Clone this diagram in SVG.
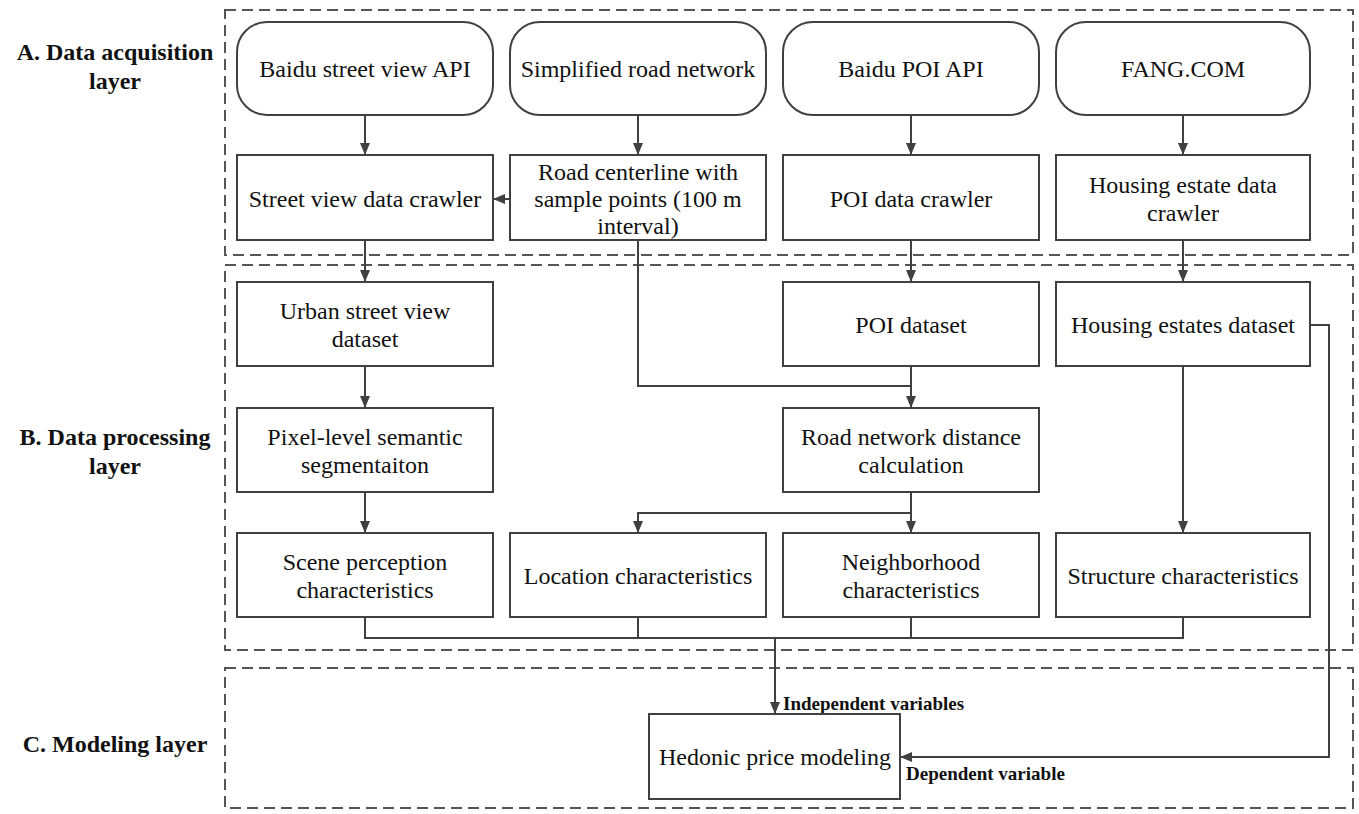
<svg xmlns="http://www.w3.org/2000/svg" width="1359" height="814" viewBox="0 0 1359 814">
<style>
.layer{fill:none;stroke:#555;stroke-width:2;stroke-dasharray:11 6}
.nd{fill:#fff;stroke:#404040;stroke-width:2}
.t{font-family:"Liberation Serif","Times New Roman",serif;font-size:24px;fill:#111;text-anchor:middle}
.lb{font-family:"Liberation Serif","Times New Roman",serif;font-size:24px;font-weight:bold;fill:#111;text-anchor:middle}
.sm{font-family:"Liberation Serif","Times New Roman",serif;font-size:19px;font-weight:bold;fill:#111}
.c{fill:none;stroke:#404040;stroke-width:2}
</style>
<defs>
<marker id="ah" viewBox="0 0 12 10" refX="12" refY="5" markerWidth="12" markerHeight="10" markerUnits="userSpaceOnUse" orient="auto">
<path d="M0,0 L12,5 L0,10 z" fill="#404040"/>
</marker>
</defs>
<rect width="1359" height="814" fill="#fff"/>
<g id="layers">
<rect class="layer" x="225" y="10" width="1128" height="245"/>
<rect class="layer" x="225" y="265" width="1128" height="385"/>
<rect class="layer" x="225" y="668" width="1128" height="140"/>
<text class="lb" x="115" y="60">A. Data acquisition</text>
<text class="lb" x="115" y="89">layer</text>
<text class="lb" x="115" y="445">B. Data processing</text>
<text class="lb" x="115" y="474">layer</text>
<text class="lb" x="115" y="752">C. Modeling layer</text>
</g>
<g id="connectors">
<path class="c" d="M365,115 V155" marker-end="url(#ah)"/>
<path class="c" d="M638,115 V155" marker-end="url(#ah)"/>
<path class="c" d="M911,115 V155" marker-end="url(#ah)"/>
<path class="c" d="M1183,115 V155" marker-end="url(#ah)"/>
<path class="c" d="M510,199 H493" marker-end="url(#ah)"/>
<path class="c" d="M365,240 V282" marker-end="url(#ah)"/>
<path class="c" d="M911,240 V282" marker-end="url(#ah)"/>
<path class="c" d="M1183,240 V282" marker-end="url(#ah)"/>
<path class="c" d="M638,240 V386 H911"/>
<path class="c" d="M911,366 V408" marker-end="url(#ah)"/>
<path class="c" d="M365,366 V408" marker-end="url(#ah)"/>
<path class="c" d="M365,492 V533" marker-end="url(#ah)"/>
<path class="c" d="M911,492 V533" marker-end="url(#ah)"/>
<path class="c" d="M911,513 H638 V533" marker-end="url(#ah)"/>
<path class="c" d="M1183,366 V533" marker-end="url(#ah)"/>
<path class="c" d="M1310,325 H1329 V757 H900" marker-end="url(#ah)"/>
<path class="c" d="M365,617 V638 H1183 V617"/>
<path class="c" d="M638,617 V638"/>
<path class="c" d="M911,617 V638"/>
<path class="c" d="M775,638 V714" marker-end="url(#ah)"/>
<text class="sm" x="783" y="710">Independent variables</text>
<text class="sm" x="906" y="780">Dependent variable</text>
</g>
<g id="n1"><rect class="nd" x="237" y="22" width="256" height="93" rx="30"/><text class="t" x="365" y="77">Baidu street view API</text></g>
<g id="n2"><rect class="nd" x="510" y="22" width="256" height="93" rx="30"/><text class="t" x="638" y="77">Simplified road network</text></g>
<g id="n3"><rect class="nd" x="783" y="22" width="256" height="93" rx="30"/><text class="t" x="911" y="77">Baidu POI API</text></g>
<g id="n4"><rect class="nd" x="1056" y="22" width="254" height="93" rx="30"/><text class="t" x="1183" y="77">FANG.COM</text></g>
<g id="n5"><rect class="nd" x="237" y="155" width="256" height="85"/><text class="t" x="365" y="207">Street view data crawler</text></g>
<g id="n6"><rect class="nd" x="510" y="155" width="256" height="85"/><text class="t" x="638" y="180">Road centerline with</text><text class="t" x="638" y="207">sample points (100 m</text><text class="t" x="638" y="234">interval)</text></g>
<g id="n7"><rect class="nd" x="783" y="155" width="256" height="85"/><text class="t" x="911" y="207">POI data crawler</text></g>
<g id="n8"><rect class="nd" x="1056" y="155" width="254" height="85"/><text class="t" x="1183" y="193">Housing estate data</text><text class="t" x="1183" y="221">crawler</text></g>
<g id="n9"><rect class="nd" x="237" y="282" width="256" height="84"/><text class="t" x="365" y="319">Urban street view</text><text class="t" x="365" y="347">dataset</text></g>
<g id="n10"><rect class="nd" x="783" y="282" width="256" height="84"/><text class="t" x="911" y="333">POI dataset</text></g>
<g id="n11"><rect class="nd" x="1056" y="282" width="254" height="84"/><text class="t" x="1183" y="333">Housing estates dataset</text></g>
<g id="n12"><rect class="nd" x="237" y="408" width="256" height="84"/><text class="t" x="365" y="445">Pixel-level semantic</text><text class="t" x="365" y="473">segmentaiton</text></g>
<g id="n13"><rect class="nd" x="783" y="408" width="256" height="84"/><text class="t" x="911" y="445">Road network distance</text><text class="t" x="911" y="473">calculation</text></g>
<g id="n14"><rect class="nd" x="237" y="533" width="256" height="84"/><text class="t" x="365" y="570">Scene perception</text><text class="t" x="365" y="598">characteristics</text></g>
<g id="n15"><rect class="nd" x="510" y="533" width="256" height="84"/><text class="t" x="638" y="584">Location characteristics</text></g>
<g id="n16"><rect class="nd" x="783" y="533" width="256" height="84"/><text class="t" x="911" y="570">Neighborhood</text><text class="t" x="911" y="598">characteristics</text></g>
<g id="n17"><rect class="nd" x="1056" y="533" width="254" height="84"/><text class="t" x="1183" y="584">Structure characteristics</text></g>
<g id="n18"><rect class="nd" x="649" y="714" width="251" height="85"/><text class="t" x="775" y="765">Hedonic price modeling</text></g>
</svg>
